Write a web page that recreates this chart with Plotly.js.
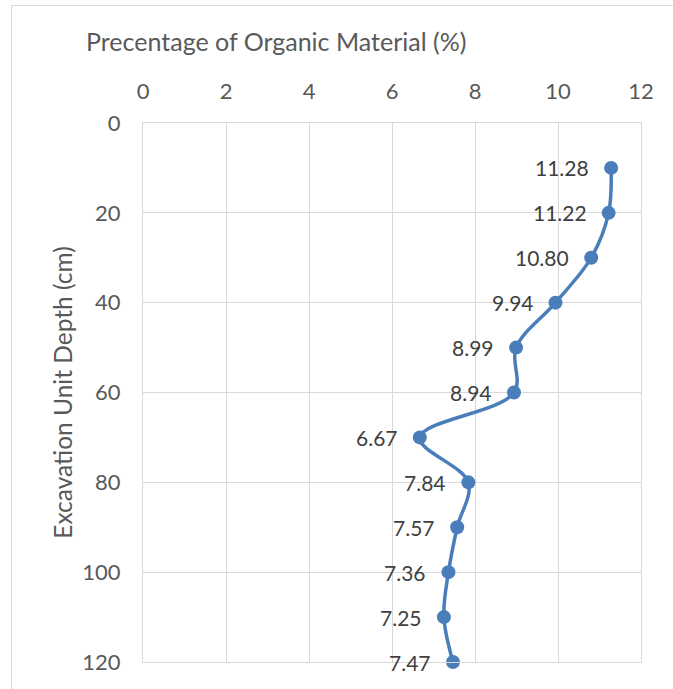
<!DOCTYPE html>
<html>
<head>
<meta charset="utf-8">
<script src="https://cdn.plot.ly/plotly-3.0.1.min.js"></script>
<style>
  html, body { margin: 0; padding: 0; background: #ffffff; }
  #frame { position: absolute; left: 11px; top: 5px; width: 700px; height: 720px; border: 1px solid #d9d9d9; box-sizing: border-box; }
  #chart { position: absolute; left: 0; top: 0; width: 673px; height: 689px; }
</style>
</head>
<body>
<div id="frame"></div>
<div id="chart"></div>
<script>
const depths = [10, 20, 30, 40, 50, 60, 70, 80, 90, 100, 110, 120];
const organicPct = [11.28, 11.22, 10.80, 9.94, 8.99, 8.94, 6.67, 7.84, 7.57, 7.36, 7.25, 7.47];
const xTickValues = [0, 2, 4, 6, 8, 10, 12];
const yTickValues = [0, 20, 40, 60, 80, 100, 120];
const chartTitle = 'Precentage of Organic Material (%)';
const yTitle = 'Excavation Unit Depth (cm)';

const FONT = 'Lato, "Open Sans", sans-serif';
const blue = '#4a7ebb';
const grey = '#595959';

const trace = {
  x: organicPct,
  y: depths,
  type: 'scatter',
  mode: 'lines+markers',
  line: { color: blue, width: 3.5, shape: 'spline', smoothing: 1 },
  marker: { color: blue, size: 14 },
  cliponaxis: false,
  hoverinfo: 'skip'
};

const labels = organicPct.map((v, i) => ({
  x: v,
  y: depths[i],
  xref: 'x',
  yref: 'y',
  text: v.toFixed(2),
  showarrow: false,
  xanchor: 'right',
  yanchor: 'middle',
  xshift: -20,
  font: { family: FONT, size: 21, color: '#404040' }
}));

const layout = {
  width: 673,
  height: 689,
  margin: { l: 143, r: 32, t: 123, b: 27 },
  paper_bgcolor: 'rgba(0,0,0,0)',
  plot_bgcolor: 'rgba(0,0,0,0)',
  showlegend: false,
  font: { family: FONT, color: grey, size: 20 },
  annotations: labels,
  title: {
    text: chartTitle,
    font: { family: FONT, size: 25, color: grey },
    xref: 'container', yref: 'container',
    x: 86 / 673, xanchor: 'left',
    y: 1 - 42 / 689, yanchor: 'middle'
  },
  xaxis: {
    side: 'top',
    range: [0, 12],
    tickvals: xTickValues,
    ticktext: xTickValues.map(String),
    showgrid: true,
    gridcolor: '#d9d9d9',
    gridwidth: 1,
    zeroline: false,
    showline: true,
    mirror: true,
    linecolor: '#d9d9d9',
    linewidth: 1,
    ticks: '',
    ticklabelstandoff: 14,
    tickfont: { family: FONT, size: 22, color: grey }
  },
  yaxis: {
    range: [120, 0],
    tickvals: yTickValues,
    ticktext: yTickValues.map(String),
    showgrid: true,
    gridcolor: '#d9d9d9',
    gridwidth: 1,
    zeroline: false,
    showline: true,
    mirror: true,
    linecolor: '#d9d9d9',
    linewidth: 1,
    ticks: '',
    ticklabelstandoff: 17,
    tickfont: { family: FONT, size: 22, color: grey },
    title: {
      text: yTitle,
      font: { family: FONT, size: 24.5, color: grey },
      standoff: 2
    }
  }
};

Plotly.newPlot('chart', [trace], layout, { displayModeBar: false, staticPlot: true });
</script>
</body>
</html>
